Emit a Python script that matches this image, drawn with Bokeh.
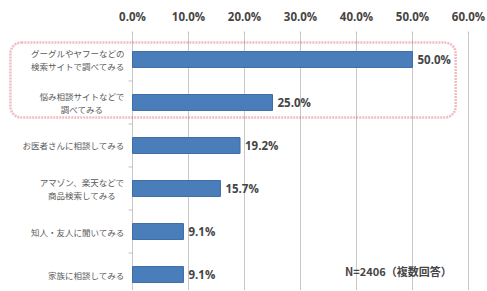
from bokeh.plotting import figure
from bokeh.models import ColumnDataSource, Range1d, FixedTicker, BoxAnnotation
from bokeh.core.properties import value
from bokeh.embed import file_html
from bokeh.resources import INLINE

# ---- data ----
categories = [
    "グーグルやヤフーなどの\n検索サイトで調べてみる",
    "悩み相談サイトなどで\n調べてみる",
    "お医者さんに相談してみる",
    "アマゾン、楽天などで\n商品検索してみる",
    "知人・友人に聞いてみる",
    "家族に相談してみる",
]
values = [50.0, 25.0, 19.2, 15.7, 9.1, 9.1]
tick_values = [0, 10, 20, 30, 40, 50, 60]
tick_labels = ["0.0%", "10.0%", "20.0%", "30.0%", "40.0%", "50.0%", "60.0%"]
note_text = "N=2406（複数回答）"

JP = "Noto Sans CJK JP"
LABEL_FS = 8.5
LINE_H = 13

ypos = list(range(len(categories)))
source = ColumnDataSource(dict(
    y=ypos,
    value=values,
    vlabel=[f"{v:.1f}%" for v in values],
))

# one text item per label line, lines centred within a right-aligned block
lx, ly, ltext, lxo, lyo = [], [], [], [], []
for y, cat in zip(ypos, categories):
    lines = cat.split("\n")
    block_w = max(len(s) for s in lines) * LABEL_FS
    for j, s in enumerate(lines):
        lx.append(0)
        ly.append(y)
        ltext.append(s)
        lxo.append(-8 - block_w / 2)
        lyo.append((j - (len(lines) - 1) / 2) * LINE_H)
label_src = ColumnDataSource(dict(x=lx, y=ly, text=ltext, xo=lxo, yo=lyo))

p = figure(width=486, height=290, output_backend="svg", toolbar_location=None,
           x_range=Range1d(-23.57, 63.21), y_range=Range1d(5.372, -0.558),
           x_axis_location="above", y_axis_type=None,
           min_border_left=0, min_border_right=0, min_border_bottom=0, min_border_top=35)
p.outline_line_color = None
p.background_fill_color = "white"
p.border_fill_color = "white"

ticker = FixedTicker(ticks=tick_values, minor_ticks=[])
ax = p.xaxis[0]
ax.ticker = ticker
ax.major_label_overrides = {t: l for t, l in zip(tick_values, tick_labels)}
ax.axis_line_color = None
ax.major_tick_line_color = "#bfbfbf"
ax.major_tick_out = 4
ax.major_tick_in = 0
ax.minor_tick_line_color = None
ax.major_label_standoff = 8
ax.major_label_text_font = "Open Sans"
ax.major_label_text_font_size = "11.5px"
ax.major_label_text_font_style = "bold"
ax.major_label_text_color = "#454545"

p.xgrid.ticker = ticker
p.xgrid.grid_line_color = "#c8c8c8"
p.xgrid.grid_line_width = 1

# bars
p.hbar(y="y", left=0, right="value", height=0.37, source=source,
       fill_color="#4a7ebb", line_color="#3d6da6", line_width=1)

# value labels
p.text(x="value", y="y", text="vlabel", source=source, x_offset=5,
       text_align="left", text_baseline="middle",
       text_font=value("Open Sans"), text_font_size="11.5px", text_font_style="bold",
       text_color="#454545")

# category labels
p.text(x="x", y="y", text="text", source=label_src, x_offset="xo", y_offset="yo",
       text_align="center", text_baseline="middle",
       text_font=value(JP), text_font_size=f"{LABEL_FS}px", text_color="#5a5a5a")

# left axis tick marks between categories
bounds = [i + 0.5 for i in ypos[:-1]]
p.segment(x0=[-0.7] * len(bounds), x1=[0] * len(bounds), y0=bounds, y1=bounds,
          line_color="#bfbfbf", line_width=1)

# note
p.text(x=[57.0], y=[4.91], text=[note_text], anchor="center_right",
       text_align="right", text_baseline="middle",
       text_font=value(JP), text_font_size="11px", text_font_style="bold",
       text_color="#454545")

# red dotted highlight box
box = BoxAnnotation(left=-21.8, right=57.7, top=-0.395, bottom=1.35,
                    fill_alpha=0, fill_color=None, line_color="#d81c38",
                    line_dash="2 1", line_width=2.5, border_radius=11)
p.add_layout(box)

open("out.html", "w").write(file_html(p, INLINE))
